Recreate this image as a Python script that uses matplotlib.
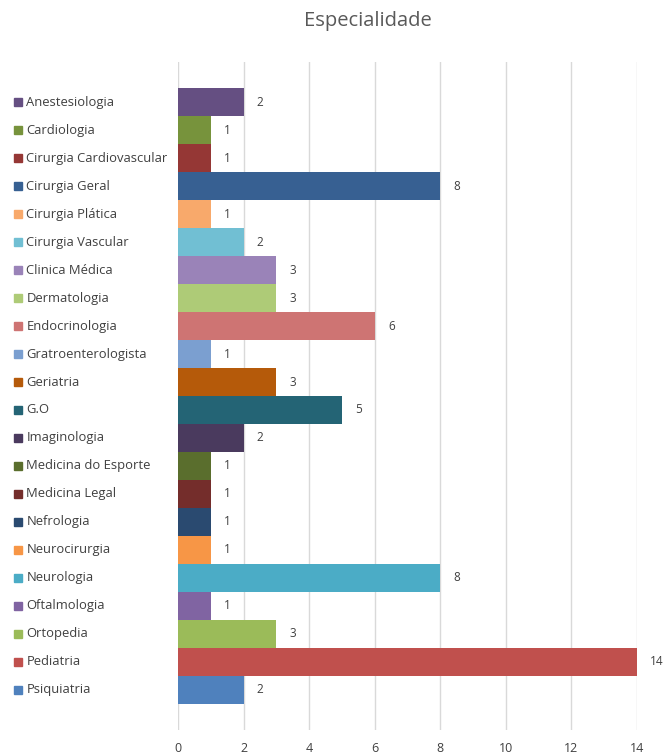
import matplotlib
matplotlib.use("Agg")
import matplotlib.pyplot as plt
from matplotlib.transforms import blended_transform_factory

categories = [
    "Anestesiologia", "Cardiologia", "Cirurgia Cardiovascular", "Cirurgia Geral",
    "Cirurgia Plática", "Cirurgia Vascular", "Clinica Médica", "Dermatologia",
    "Endocrinologia", "Gratroenterologista", "Geriatria", "G.O", "Imaginologia",
    "Medicina do Esporte", "Medicina Legal", "Nefrologia", "Neurocirurgia",
    "Neurologia", "Oftalmologia", "Ortopedia", "Pediatria", "Psiquiatria",
]
values = [2, 1, 1, 8, 1, 2, 3, 3, 6, 1, 3, 5, 2, 1, 1, 1, 1, 8, 1, 3, 14, 2]
colors = [
    "#654f82", "#77933c", "#953735", "#376092", "#f8a96b", "#71bfd3",
    "#9a83b8", "#aecb77", "#ce7473", "#7b9fd0", "#b55a0a", "#246475",
    "#4a3a5e", "#5a6e2d", "#742d2b", "#2a4a70", "#f79646", "#4bacc6",
    "#8064a2", "#9bbb59", "#c0504d", "#4f81bd",
]
xticks = [0, 2, 4, 6, 8, 10, 12, 14]
title = "Especialidade"

plt.rcParams["font.family"] = ["Open Sans", "DejaVu Sans"]

W, H = 664, 755
fig = plt.figure(figsize=(W / 100, H / 100), dpi=100)
ax = fig.add_axes([178 / W, 1 - 730 / H, (637 - 178) / W, (730 - 62) / H])

n = len(categories)
ys = list(range(n))
ax.barh(ys, values, height=1.0, color=colors, zorder=3)

ax.set_xlim(0, 14)
ax.set_ylim(n - 1 + 1.43, -1.43)
ax.set_xticks(xticks)
ax.set_xticklabels([str(t) for t in xticks], fontsize=9, color="#404040")
ax.tick_params(axis="x", length=0, pad=9)
ax.set_yticks([])
ax.grid(axis="x", color="#d9d9d9", linewidth=1, zorder=0)
for s in ax.spines.values():
    s.set_visible(False)

# value labels at the bar ends
for y, v in zip(ys, values):
    ax.annotate(str(v), (v, y), xytext=(9.5, 0), textcoords="offset points",
                ha="left", va="center", fontsize=8.5, color="#404040")

# legend column on the left, aligned with each bar
tr = blended_transform_factory(fig.transFigure, ax.transData)
for y, c, name in zip(ys, colors, categories):
    ax.plot([17.5 / W], [y], marker="s", markersize=5.5, color=c,
            transform=tr, clip_on=False, linestyle="none")
    ax.text(26.5 / W, y, name, transform=tr, ha="left", va="center",
            fontsize=9.4, color="#404040", clip_on=False)

fig.text(368 / W, 1 - 21 / H, title, ha="center", va="center",
         fontsize=14.5, color="#595959")

fig.savefig("out.png", dpi=100)
